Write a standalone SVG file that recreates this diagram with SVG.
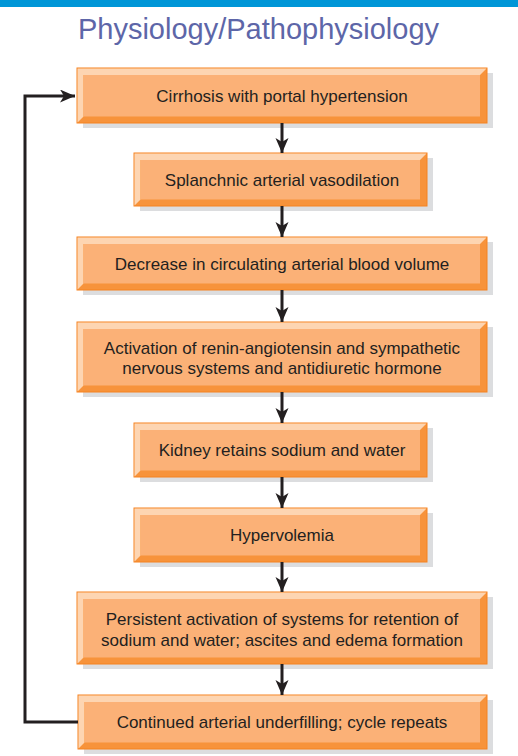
<svg xmlns="http://www.w3.org/2000/svg" width="518" height="756" viewBox="0 0 518 756">
<style>
.sh{fill:#dcdddf}
.bd{fill:#f7933b;stroke:#f58220;stroke-width:1}
.lt{fill:#fdd5b2}
.fc{fill:#fbb177}
.tx{font-family:"Liberation Sans",Arial,sans-serif;font-size:17px;fill:#231f20;text-anchor:middle}
.ttl{font-family:"Liberation Sans",Arial,sans-serif;font-size:29px;fill:#5d66a8;text-anchor:middle}
.cn{fill:none;stroke:#231f20;stroke-width:3}
</style>
<defs>
<marker id="ah" markerUnits="userSpaceOnUse" markerWidth="16" markerHeight="14" refX="15" refY="6.5" orient="auto">
<path d="M0,0 L15,6.5 L0,13 L4,6.5 z" fill="#231f20"/>
</marker>
</defs>
<rect x="0" y="0" width="518" height="7" fill="#0096d7"/>
<text class="ttl" x="258.5" y="39">Physiology/Pathophysiology</text>

<g id="n1">
<rect class="sh" x="83" y="73" width="410" height="55"/>
<rect class="bd" x="77" y="68" width="410" height="55"/>
<path class="lt" d="M77.5,68.5 H486.5 L480,75 H83.5 V116.5 L77.5,122.5 Z"/>
<rect class="fc" x="83.5" y="75" width="396.5" height="41.5"/>
<text class="tx" x="282" y="101.5">Cirrhosis with portal hypertension</text>
</g>

<g id="n2">
<rect class="sh" x="140" y="158" width="293" height="53"/>
<rect class="bd" x="134" y="153" width="293" height="53"/>
<path class="lt" d="M134.5,153.5 H426.5 L420,160 H140.5 V199.5 L134.5,205.5 Z"/>
<rect class="fc" x="140.5" y="160" width="279.5" height="39.5"/>
<text class="tx" x="282" y="185.5">Splanchnic arterial vasodilation</text>
</g>

<g id="n3">
<rect class="sh" x="83" y="242" width="410" height="53"/>
<rect class="bd" x="77" y="237" width="410" height="53"/>
<path class="lt" d="M77.5,237.5 H486.5 L480,244 H83.5 V283.5 L77.5,289.5 Z"/>
<rect class="fc" x="83.5" y="244" width="396.5" height="39.5"/>
<text class="tx" x="282" y="269.5">Decrease in circulating arterial blood volume</text>
</g>

<g id="n4">
<rect class="sh" x="83" y="327" width="410" height="70"/>
<rect class="bd" x="77" y="322" width="410" height="70"/>
<path class="lt" d="M77.5,322.5 H486.5 L480,329 H83.5 V385.5 L77.5,391.5 Z"/>
<rect class="fc" x="83.5" y="329" width="396.5" height="56.5"/>
<text class="tx" x="282" y="354">Activation of renin-angiotensin and sympathetic</text>
<text class="tx" x="282" y="374">nervous systems and antidiuretic hormone</text>
</g>

<g id="n5">
<rect class="sh" x="140" y="428" width="293" height="54"/>
<rect class="bd" x="134" y="423" width="293" height="54"/>
<path class="lt" d="M134.5,423.5 H426.5 L420,430 H140.5 V470.5 L134.5,476.5 Z"/>
<rect class="fc" x="140.5" y="430" width="279.5" height="40.5"/>
<text class="tx" x="282" y="456">Kidney retains sodium and water</text>
</g>

<g id="n6">
<rect class="sh" x="140" y="513" width="293" height="54"/>
<rect class="bd" x="134" y="508" width="293" height="54"/>
<path class="lt" d="M134.5,508.5 H426.5 L420,515 H140.5 V555.5 L134.5,561.5 Z"/>
<rect class="fc" x="140.5" y="515" width="279.5" height="40.5"/>
<text class="tx" x="282" y="541">Hypervolemia</text>
</g>

<g id="n7">
<rect class="sh" x="83" y="597" width="410" height="72"/>
<rect class="bd" x="77" y="592" width="410" height="72"/>
<path class="lt" d="M77.5,592.5 H486.5 L480,599 H83.5 V657.5 L77.5,663.5 Z"/>
<rect class="fc" x="83.5" y="599" width="396.5" height="58.5"/>
<text class="tx" x="282" y="625">Persistent activation of systems for retention of</text>
<text class="tx" x="282" y="645.5">sodium and water; ascites and edema formation</text>
</g>

<g id="n8">
<rect class="sh" x="84" y="700" width="409" height="54"/>
<rect class="bd" x="78" y="695" width="409" height="54"/>
<path class="lt" d="M78.5,695.5 H486.5 L480,702 H84.5 V742.5 L78.5,748.5 Z"/>
<rect class="fc" x="84.5" y="702" width="395.5" height="40.5"/>
<text class="tx" x="282" y="728">Continued arterial underfilling; cycle repeats</text>
</g>

<g id="connectors">
<path class="cn" d="M282,123 V153" marker-end="url(#ah)"/>
<path class="cn" d="M282,206 V237" marker-end="url(#ah)"/>
<path class="cn" d="M282,290 V322" marker-end="url(#ah)"/>
<path class="cn" d="M282,392 V423" marker-end="url(#ah)"/>
<path class="cn" d="M282,477 V508" marker-end="url(#ah)"/>
<path class="cn" d="M282,562 V592" marker-end="url(#ah)"/>
<path class="cn" d="M282,664 V695" marker-end="url(#ah)"/>
<path class="cn" d="M78,722 H25 V96 H75" marker-end="url(#ah)"/>
</g>
</svg>
